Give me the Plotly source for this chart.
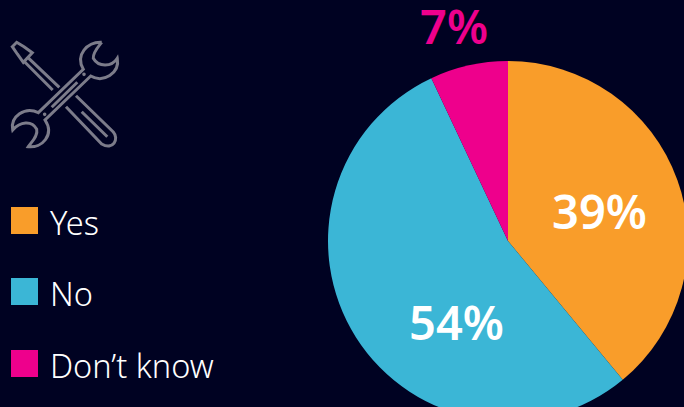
import plotly.graph_objects as go

# Survey answers, in clockwise order from twelve o'clock
categories = ["Yes", "No", "Don’t know"]
shares = [39, 54, 7]
colors = ["#F99D2A", "#3BB6D6", "#EE008C"]

BACKGROUND = "#000222"
ICON_COLOR = "#7C7C8A"

# The canvas runs past the window so that the pie bleeds off two edges
WIDTH, HEIGHT = 700, 430
CENTER_X, CENTER_Y, RADIUS = 508, 241, 180

# Slice labels: centre position and colour of each percentage
label_centers = [(599, 211), (456.5, 322), (454, 26)]
label_colors = ["white", "white", colors[2]]

# Legend rows: vertical centre of each swatch
legend_rows = [220.5, 291.5, 363.5]


def icon_path(points):
    """SVG path in icon units (3 per pixel), offset to the icon's place."""
    out = []
    for item in points:
        if isinstance(item, str):
            out.append(item)
        else:
            out.append(f"{item[0] / 3:.1f},{item[1] / 3 + 30:.1f}")
    return " ".join(out)


screwdriver = [
    "M", (37, 50), "L", (50, 37), "L", (72, 50), "L", (97, 68), "L", (70, 97),
    "L", (52, 72), "Z",
    "M", (84, 83), "L", (178, 172),
    "M", (72, 94), "L", (158, 180),
    "M", (228, 197), "L", (340, 306), "C", (358, 326), (340, 362), (305, 342),
    "L", (198, 230),
    "M", (245, 245), "L", (322, 320),
]
wrench = [
    "M", (305, 37), "C", (262, 35), (225, 75), (250, 118),
    "L", (115, 248), "C", (75, 228), (30, 260), (38, 300),
    "C", (60, 275), (95, 270), (110, 298), "C", (115, 318), (95, 335), (85, 350),
    "C", (125, 355), (165, 315), (135, 270),
    "L", (272, 138), "C", (310, 160), (360, 130), (352, 85),
    "C", (335, 112), (295, 112), (280, 85), "C", (278, 68), (295, 50), (305, 37),
    "M", (155, 232), "L", (232, 157),
]
icon_dots = [(252, 133), (134, 253)]

fig = go.Figure(
    go.Pie(
        labels=categories,
        values=shares,
        sort=False,
        direction="clockwise",
        rotation=0,
        marker=dict(colors=colors, line=dict(color=BACKGROUND, width=0)),
        textinfo="none",
        hoverinfo="label+percent",
        showlegend=False,
        domain=dict(
            x=[(CENTER_X - RADIUS) / WIDTH, (CENTER_X + RADIUS) / WIDTH],
            y=[1 - (CENTER_Y + RADIUS) / HEIGHT, 1 - (CENTER_Y - RADIUS) / HEIGHT],
        ),
    )
)

shapes = []
for d in (screwdriver, wrench):
    shapes.append(dict(type="path", xref="x", yref="y", path=icon_path(d),
                       line=dict(color=ICON_COLOR, width=3)))
for (dx, dy) in icon_dots:
    shapes.append(dict(type="circle", xref="x", yref="y",
                       x0=dx / 3 - 1.8, x1=dx / 3 + 1.8,
                       y0=dy / 3 + 30 - 1.8, y1=dy / 3 + 30 + 1.8,
                       fillcolor=ICON_COLOR, line=dict(width=0)))

annotations = []
for share, (lx, ly), col in zip(shares, label_centers, label_colors):
    annotations.append(dict(
        x=lx, y=ly, xref="x", yref="y", text=f"{share}%", showarrow=False,
        xanchor="center", yanchor="middle",
        font=dict(family="Noto Sans", size=47, color=col, weight=600),
    ))

for name, col, cy in zip(categories, colors, legend_rows):
    shapes.append(dict(type="rect", xref="x", yref="y",
                       x0=11, x1=38, y0=cy - 13.5, y1=cy + 13.5,
                       fillcolor=col, line=dict(width=0)))
    annotations.append(dict(
        x=47.5, y=cy + 2, xref="x", yref="y", text=name, showarrow=False,
        xanchor="left", yanchor="middle",
        font=dict(family="Noto Sans", size=32.5, color="white", weight=300),
    ))

fig.update_layout(
    width=WIDTH,
    height=HEIGHT,
    autosize=False,
    margin=dict(l=0, r=0, t=0, b=0),
    paper_bgcolor=BACKGROUND,
    plot_bgcolor="rgba(0,0,0,0)",
    xaxis=dict(visible=False, range=[0, WIDTH], fixedrange=True),
    yaxis=dict(visible=False, range=[HEIGHT, 0], fixedrange=True),
    shapes=shapes,
    annotations=annotations,
)

fig.write_html(
    "out.html",
    config=dict(displayModeBar=False),
    post_script="document.documentElement.style.overflow='hidden';"
                f"document.body.style.background='{BACKGROUND}';",
)
